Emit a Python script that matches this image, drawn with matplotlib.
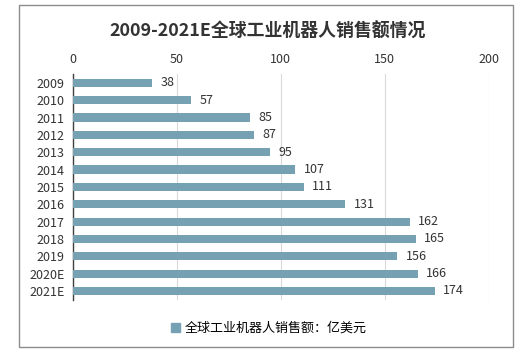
import matplotlib.pyplot as plt
from matplotlib.patches import Rectangle, Patch

plt.rcParams['font.family'] = ['Noto Sans CJK SC', 'DejaVu Sans']

years = ['2009', '2010', '2011', '2012', '2013', '2014', '2015', '2016',
         '2017', '2018', '2019', '2020E', '2021E']
sales = [38, 57, 85, 87, 95, 107, 111, 131, 162, 165, 156, 166, 174]
ticks = [0, 50, 100, 150, 200]

bar_color = '#76a1b3'

fig = plt.figure(figsize=(5.25, 3.55), dpi=100)
ax = fig.add_axes([0.139, 0.156, 0.792, 0.635])

y = range(len(years))
ax.barh(y, sales, height=0.47, color=bar_color, zorder=3)
for i, v in enumerate(sales):
    ax.text(v + 4, i, str(v), va='center', ha='left', fontsize=9, color='#333333')

ax.set_xlim(0, 200)
ax.set_ylim(len(years) - 0.5, -0.5)
ax.set_yticks(list(y))
ax.set_yticklabels(years, fontsize=9, color='#333333')
ax.set_xticks(ticks)
ax.set_xticklabels([str(t) for t in ticks], fontsize=9, color='#333333')
ax.xaxis.tick_top()
ax.tick_params(length=0, pad=6)
ax.grid(axis='x', color='#d9d9d9', linewidth=0.8, zorder=0)
for s in ['top', 'right', 'bottom']:
    ax.spines[s].set_visible(False)
ax.spines['left'].set_color('#404040')
ax.spines['left'].set_linewidth(1)

fig.text(0.509, 0.91, '2009-2021E全球工业机器人销售额情况', ha='center', va='center',
         fontsize=12.9, fontweight='bold', color='#333333')

fig.legend(handles=[Patch(color=bar_color, label='全球工业机器人销售额：亿美元')],
           loc='center', bbox_to_anchor=(0.512, 0.075), frameon=False, fontsize=9.4,
           handlelength=0.7, handleheight=0.7, handletextpad=0.3)

fig.patches.append(Rectangle((0.036, 0.022), 0.941, 0.963, transform=fig.transFigure,
                             fill=False, edgecolor='#8c8c8c', linewidth=1))

fig.savefig('out.png', dpi=100)
